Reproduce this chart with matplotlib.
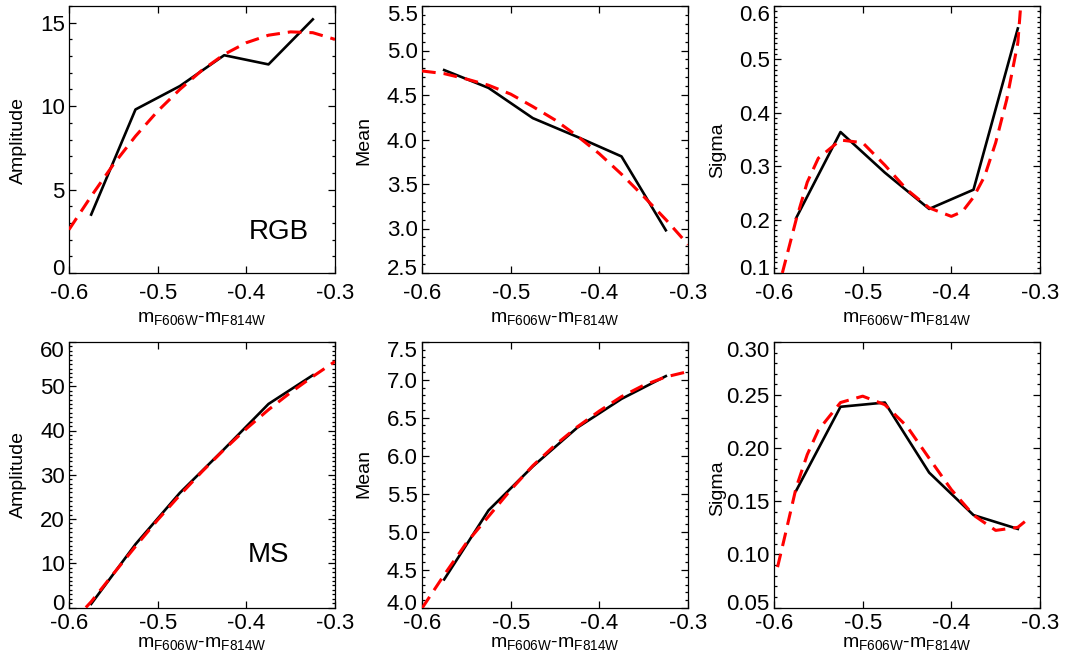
import matplotlib
matplotlib.use("Agg")
import matplotlib.pyplot as plt
from matplotlib.ticker import MultipleLocator
from matplotlib.transforms import ScaledTranslation

plt.rcParams["font.family"] = ["Liberation Sans", "DejaVu Sans"]
plt.rcParams["mathtext.default"] = "regular"

# colour bins (centres) used for the measured points
x_bins = [-0.575, -0.525, -0.475, -0.425, -0.375, -0.325]

rgb_amp = [3.5, 9.8, 11.2, 13.05, 12.5, 15.2]
rgb_mean = [4.78, 4.58, 4.24, 4.03, 3.81, 2.98]
rgb_sigma = [0.203, 0.364, 0.288, 0.220, 0.256, 0.558]
ms_amp = [0.8, 14.3, 25.9, 35.8, 46.0, 52.5]
ms_mean = [4.37, 5.28, 5.86, 6.37, 6.75, 7.05]
ms_sigma = [0.160, 0.239, 0.243, 0.177, 0.137, 0.124]

# red dashed fits
fit_x = [-0.6, -0.575, -0.55, -0.525, -0.5, -0.475, -0.45,
         -0.425, -0.4, -0.375, -0.35, -0.325, -0.3]
rgb_amp_fit = [2.6, 4.6, 6.5, 8.2, 9.7, 11.0, 12.15, 13.1, 13.8, 14.25, 14.45, 14.4, 14.0]
rgb_mean_fit = [4.77, 4.74, 4.68, 4.61, 4.51, 4.37, 4.22, 4.04, 3.84, 3.61, 3.36, 3.10, 2.82]
ms_mean_fit = [3.99, 4.43, 4.85, 5.20, 5.55, 5.87, 6.14, 6.38, 6.59, 6.78, 6.93, 7.04, 7.11]

rgb_sigma_fit_x = [-0.5906, -0.575, -0.5625, -0.55, -0.525, -0.5, -0.475, -0.45, -0.425,
                   -0.4, -0.3875, -0.375, -0.3625, -0.35, -0.3375, -0.325, -0.3218]
rgb_sigma_fit = [0.10, 0.20, 0.27, 0.315, 0.349, 0.344, 0.302, 0.256, 0.222,
                 0.206, 0.215, 0.242, 0.281, 0.344, 0.425, 0.531, 0.60]

ms_amp_fit_x = [-0.581, -0.575, -0.55, -0.525, -0.5, -0.475, -0.45,
                -0.425, -0.4, -0.375, -0.35, -0.325, -0.3]
ms_amp_fit = [0.0, 1.3, 7.6, 13.8, 19.8, 25.4, 30.7, 35.7, 40.4, 44.7, 48.6, 52.2, 55.6]

ms_sigma_fit_x = [-0.596, -0.5875, -0.575, -0.5625, -0.55, -0.525, -0.5, -0.475,
                  -0.45, -0.425, -0.4, -0.375, -0.35, -0.325, -0.3125]
ms_sigma_fit = [0.088, 0.118, 0.163, 0.194, 0.217, 0.243, 0.249, 0.241,
                0.2205, 0.1905, 0.161, 0.137, 0.1226, 0.1255, 0.134]

panels = [
    # data, fit x, fit y, ylabel, ylim, major, minor, tag
    (rgb_amp, fit_x, rgb_amp_fit, "Amplitude", (0, 16), [0, 5, 10, 15], 1, "RGB"),
    (rgb_mean, fit_x, rgb_mean_fit, "Mean", (2.5, 5.5), [2.5, 3.0, 3.5, 4.0, 4.5, 5.0, 5.5], 0.1, None),
    (rgb_sigma, rgb_sigma_fit_x, rgb_sigma_fit, "Sigma", (0.1, 0.6), [0.1, 0.2, 0.3, 0.4, 0.5, 0.6], 0.01, None),
    (ms_amp, ms_amp_fit_x, ms_amp_fit, "Amplitude", (0, 60), [0, 10, 20, 30, 40, 50, 60], 1, "MS"),
    (ms_mean, fit_x, ms_mean_fit, "Mean", (4.0, 7.5), [4.0, 4.5, 5.0, 5.5, 6.0, 6.5, 7.0, 7.5], 0.1, None),
    (ms_sigma, ms_sigma_fit_x, ms_sigma_fit, "Sigma", (0.05, 0.30), [0.05, 0.10, 0.15, 0.20, 0.25, 0.30], 0.01, None),
]
ytick_fmt = ["{:.0f}", "{:.1f}", "{:.1f}", "{:.0f}", "{:.1f}", "{:.2f}"]

W, H = 1065, 667
fig = plt.figure(figsize=(W / 100, H / 100), dpi=100)

lefts = [69, 422, 774]
row_top = [6, 342]
row_bot = [273, 607.5]
ylabel_x = [-0.19, -0.218, -0.212]
ylabel_y = [[0.495, 0.498, 0.46], [0.50, 0.504, 0.45]]
xlabel_y = [-0.182, -0.148]
xtick_pad = [7, 4]
tag_pos = [(0.79, 0.154), (0.75, 0.198)]
xlab = r"m$_{F606W}$-m$_{F814W}$"

for i, (yd, fx, fy, ylab, ylim, yt, ymin_step, tag) in enumerate(panels):
    r, c = divmod(i, 3)
    ax = fig.add_axes([lefts[c] / W, 1 - row_bot[r] / H, 266 / W, (row_bot[r] - row_top[r]) / H])
    ax.plot(x_bins, yd, color="black", lw=1.9, zorder=2)
    ax.plot(fx, fy, color="red", lw=2.2, dashes=(4.5, 2.6), zorder=3)
    ax.set_xlim(-0.6, -0.3)
    ax.set_ylim(*ylim)
    ax.set_xticks([-0.6, -0.5, -0.4, -0.3])
    ax.set_xticklabels(["-0.6", "-0.5", "-0.4", "-0.3"])
    ax.set_yticks(yt)
    ax.set_yticklabels([ytick_fmt[i].format(v) for v in yt])
    ax.yaxis.set_minor_locator(MultipleLocator(ymin_step))
    ax.tick_params(which="both", direction="in", top=True, right=True, width=0.9)
    ax.tick_params(which="major", length=5)
    ax.tick_params(which="minor", length=2.5)
    ax.tick_params(axis="x", labelsize=16, pad=xtick_pad[r])
    ax.tick_params(axis="y", labelsize=16, pad=3)
    for s in ax.spines.values():
        s.set_linewidth(0.9)

    # shift end labels inwards like the original
    for loc, tick in zip(yt, ax.yaxis.get_major_ticks()):
        if abs(loc - ylim[0]) < 1e-9:
            off = ScaledTranslation(0, 4 / 72, fig.dpi_scale_trans)
            tick.label1.set_transform(tick.label1.get_transform() + off)
        elif abs(loc - ylim[1]) < 1e-9:
            off = ScaledTranslation(0, -5 / 72, fig.dpi_scale_trans)
            tick.label1.set_transform(tick.label1.get_transform() + off)

    ax.set_ylabel(ylab, fontsize=14, va="center")
    ax.yaxis.set_label_coords(ylabel_x[c], ylabel_y[r][c])
    ax.set_xlabel(xlab, fontsize=14, va="baseline")
    ax.xaxis.set_label_coords(0.5, xlabel_y[r])

    if tag:
        ax.text(tag_pos[r][0], tag_pos[r][1], tag, fontsize=20,
                ha="center", va="center", transform=ax.transAxes)

fig.savefig("out.png", dpi=100)
